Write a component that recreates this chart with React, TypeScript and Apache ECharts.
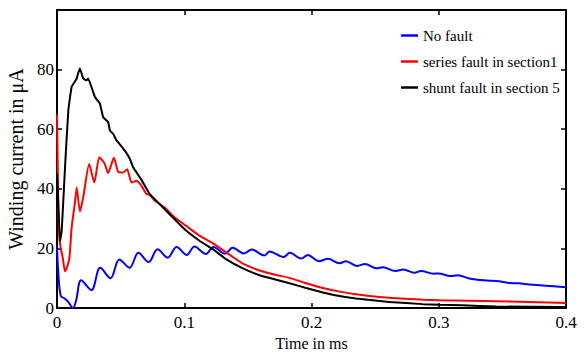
import React, { useEffect, useRef } from "react";
import * as echarts from "echarts";

const xTicks = [0, 0.1, 0.2, 0.3, 0.4];
const yTickLabels = ["0", "20", "40", "60", "80", ""];

const noFaultT = [0, 0.001, 0.003, 0.006, 0.009, 0.0125, 0.015, 0.019, 0.027, 0.034, 0.042, 0.049, 0.057, 0.064, 0.072, 0.079, 0.087, 0.094, 0.102, 0.108, 0.117, 0.123, 0.132, 0.138, 0.147, 0.153, 0.163, 0.167, 0.178, 0.183, 0.192, 0.197, 0.206, 0.213, 0.222, 0.227, 0.236, 0.242, 0.251, 0.256, 0.266, 0.272, 0.281, 0.286, 0.296, 0.3, 0.309, 0.315, 0.324, 0.338, 0.347, 0.355, 0.363, 0.371, 0.384, 0.4];
const noFaultV = [21, 12, 4, 3.2, 2, 0, 2.5, 9.3, 6, 13.5, 10, 16.3, 13.5, 18.5, 15.4, 19.7, 16.9, 20.5, 17.8, 20.6, 18.1, 20.5, 18.2, 20.2, 18.3, 19.6, 17.6, 19, 17.1, 18.5, 16.6, 17.8, 15.7, 16.5, 15, 15.7, 14.1, 14.8, 13.3, 13.7, 12.4, 12.9, 11.8, 12.4, 11.5, 11.6, 10.7, 11, 9.9, 9.2, 9.0, 8.4, 8.3, 7.9, 7.5, 7.0];

const seriesFaultT = [0, 0.001, 0.0016, 0.0029, 0.0045, 0.0063, 0.0096, 0.0115, 0.0141, 0.0155, 0.018, 0.0206, 0.0253, 0.0293, 0.0332, 0.0363, 0.0376, 0.0402, 0.0447, 0.0481, 0.052, 0.0551, 0.0586, 0.0625, 0.0664, 0.0704, 0.0729, 0.0769, 0.0847, 0.0912, 0.1017, 0.1122, 0.1226, 0.1331, 0.1461, 0.1592, 0.1723, 0.1827, 0.1958, 0.2089, 0.222, 0.235, 0.2612, 0.2873, 0.3004, 0.345, 0.4];
const seriesFaultV = [65, 36, 24.7, 20.2, 16.9, 12.3, 16.3, 27, 35.4, 40.4, 32.4, 37.1, 48.3, 42.1, 50.6, 49.2, 48.3, 45.3, 50.4, 45.7, 45.5, 46.6, 42.1, 42.7, 41, 38.2, 38, 36, 33.7, 30.9, 27.5, 24.2, 21.7, 18.6, 14.9, 12.6, 11.1, 10.1, 8.3, 6.7, 5.5, 4.6, 3.4, 2.8, 2.6, 2.3, 1.7];

const shuntFaultT = [0, 0.0024, 0.0037, 0.0063, 0.0089, 0.0115, 0.0155, 0.0167, 0.018, 0.0206, 0.0233, 0.0245, 0.0298, 0.0337, 0.0363, 0.0402, 0.0416, 0.0442, 0.0468, 0.0481, 0.0533, 0.0573, 0.0598, 0.0664, 0.0729, 0.0808, 0.0912, 0.1017, 0.1122, 0.1226, 0.1331, 0.1461, 0.1592, 0.1723, 0.1827, 0.1958, 0.2089, 0.222, 0.235, 0.2612, 0.2873, 0.3004, 0.3187, 0.345, 0.4];
const shuntFaultV = [45, 22.4, 25.9, 47.2, 66.3, 74.2, 77, 78.9, 80.4, 77, 76.4, 77, 70.8, 68.6, 64, 62.4, 59.5, 58.4, 56.2, 55.6, 52.8, 50, 47.2, 43, 38.2, 34.8, 30.3, 25.9, 22.5, 19.7, 16.3, 13.3, 11.0, 9.5, 8.3, 6.7, 5.2, 4.0, 3.2, 2.0, 1.3, 1.1, 0.9, 0.5, 0.3];

const legendNames = ["No fault", "series fault in section1", "shunt fault in section 5"];

const zip = (t: number[], v: number[]) => t.map((x, i) => [x, v[i]]);

const FONT = "'Liberation Serif', 'Times New Roman', Times, serif";

export default function App() {
  const ref = useRef<HTMLDivElement>(null);
  useEffect(() => {
    if (!ref.current) return;
    const chart = echarts.init(ref.current, null, { renderer: "svg" });
    const axisLine = { show: true, onZero: false, lineStyle: { color: "#000", width: 2 } };
    const tick = { show: true, inside: true, length: 5, lineStyle: { color: "#000", width: 1.5 } };
    chart.setOption({
      animation: false,
      backgroundColor: "#fff",
      grid: { left: 57, right: 19, top: 10, bottom: 45, containLabel: false, outerBoundsMode: "none" },
      legend: {
        show: true,
        orient: "vertical",
        left: 396,
        top: 23,
        itemWidth: 17,
        itemHeight: 14,
        itemGap: 11,
        icon: "path://M0,6 L17,6 L17,8.5 L0,8.5 Z",
        textStyle: { fontFamily: FONT, fontSize: 15, color: "#000" },
        data: legendNames,
      },
      xAxis: [
        {
          type: "value",
          min: 0,
          max: 0.4,
          interval: 0.1,
          position: "bottom",
          name: "Time in ms",
          nameLocation: "middle",
          nameGap: 26,
          nameTextStyle: { fontFamily: FONT, fontSize: 16, color: "#000" },
          axisLine,
          axisTick: tick,
          splitLine: { show: false },
          axisLabel: {
            fontFamily: FONT,
            fontSize: 17,
            color: "#000",
            margin: 6,
            formatter: (v: number) => {
              const i = xTicks.findIndex((t) => Math.abs(t - v) < 1e-9);
              return i >= 0 ? String(xTicks[i]) : "";
            },
          },
        },
        {
          type: "value",
          min: 0,
          max: 0.4,
          interval: 0.1,
          position: "top",
          axisLine,
          axisTick: tick,
          axisLabel: { show: false },
          splitLine: { show: false },
        },
      ],
      yAxis: [
        {
          type: "value",
          min: 0,
          max: 100,
          interval: 20,
          position: "left",
          name: "Winding current in μA",
          nameLocation: "middle",
          nameGap: 20,
          nameTextStyle: { fontFamily: FONT, fontSize: 20, color: "#000" },
          axisLine,
          axisTick: tick,
          splitLine: { show: false },
          axisLabel: {
            fontFamily: FONT,
            fontSize: 17,
            color: "#000",
            margin: 3,
            formatter: (v: number) => yTickLabels[Math.round(v / 20)] ?? "",
          },
        },
        {
          type: "value",
          min: 0,
          max: 100,
          interval: 20,
          position: "right",
          axisLine,
          axisTick: tick,
          axisLabel: { show: false },
          splitLine: { show: false },
        },
      ],
      series: [
        {
          name: legendNames[0],
          type: "line",
          data: zip(noFaultT, noFaultV),
          showSymbol: false,
          symbol: "none",
          smooth: 0.35,
          lineStyle: { color: "#0000ff", width: 2 },
          itemStyle: { color: "#0000ff" },
          z: 3,
        },
        {
          name: legendNames[1],
          type: "line",
          data: zip(seriesFaultT, seriesFaultV),
          showSymbol: false,
          symbol: "none",
          smooth: 0.2,
          lineStyle: { color: "#ff0000", width: 2 },
          itemStyle: { color: "#ff0000" },
          z: 4,
        },
        {
          name: legendNames[2],
          type: "line",
          data: zip(shuntFaultT, shuntFaultV),
          showSymbol: false,
          symbol: "none",
          smooth: 0.1,
          lineStyle: { color: "#000000", width: 2 },
          itemStyle: { color: "#000000" },
          z: 5,
        },
      ],
    });
    return () => chart.dispose();
  }, []);
  return (
    <div
      ref={ref}
      style={{ width: 585, height: 353, position: "fixed", left: 0, top: 0 }}
    />
  );
}
